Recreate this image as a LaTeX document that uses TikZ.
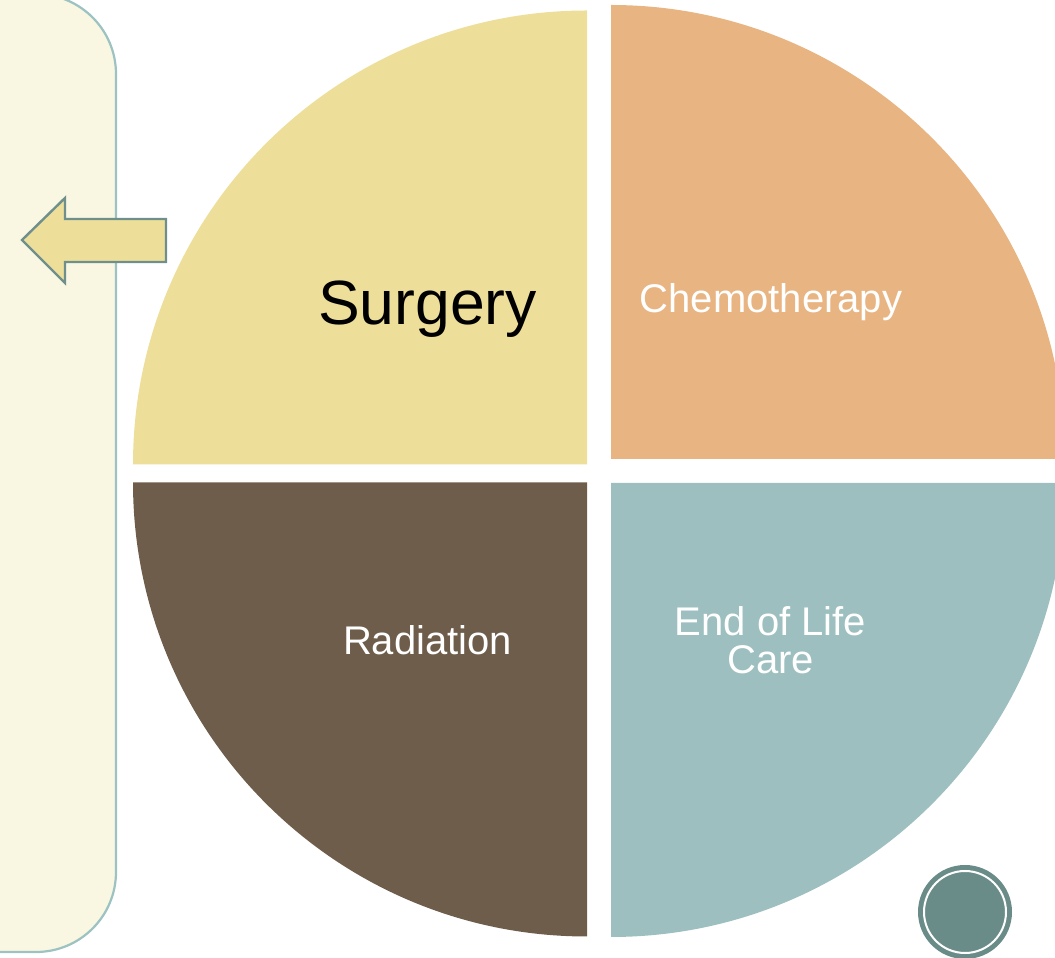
\documentclass[tikz,border=0pt]{standalone}
\usepackage{fontspec}
\setmainfont{Liberation Sans}
\usepackage{tikz}
\usetikzlibrary{arrows.meta,positioning}
\definecolor{surgery}{HTML}{EDDE9A}
\definecolor{chemo}{HTML}{E8B482}
\definecolor{radiation}{HTML}{6E5D4A}
\definecolor{endcare}{HTML}{9EBFBF}
\definecolor{panelfill}{HTML}{F9F6E2}
\definecolor{panelline}{HTML}{9CC2C1}
\definecolor{arrowline}{HTML}{6F8F8C}
\definecolor{badge}{HTML}{6A8C89}
\tikzset{
  biglabel/.style={font=\fontsize{62.5}{70}\selectfont, text=black, anchor=base},
  whitelabel/.style={font=\fontsize{40}{38.5}\selectfont, text=white, align=center},
  panel/.style={draw=panelline, line width=2.2pt, fill=panelfill, rounded corners=80pt}
}
\begin{document}
\begin{tikzpicture}[x=1pt,y=1pt]
        \useasboundingbox (0,0) rectangle (1055,958);
        \clip (0,0) rectangle (1055,958);
        % side panel and arrow
        \draw[panel] (-120,6) rectangle (116,964);
        \draw[arrowline, line width=2.4pt, fill=surgery, line join=miter]
          (22,718) -- (65,760) -- (65,739) -- (166,739) -- (166,696) -- (65,696) -- (65,675) -- cycle;
        % four quarters
        \fill[surgery] (587,493.5) -- ++(-454,0) arc[start angle=180, end angle=90, radius=454] -- cycle;
        \fill[chemo] (611,499) -- ++(0,454) arc[start angle=90, end angle=0, radius=454] -- cycle;
        \fill[radiation] (587,475.5) -- ++(-454,0) arc[start angle=180, end angle=270, radius=454] -- cycle;
        \fill[endcare] (611,475) -- ++(454,0) arc[start angle=0, end angle=-90, radius=454] -- cycle;
        \node[biglabel] (surg) at (427.5,633) {Surgery};
        \node[whitelabel, anchor=base] (chem) at (771,645) {Chemotherapy};
        \node[whitelabel, anchor=base] (rad) at (427.5,303) {Radiation};
        \node[whitelabel] (eol) at (770.5,318) {End of Life\\Care};
        % badge
        \fill[badge] (965,46) circle (47);
        \draw[white, line width=2pt] (965,46) circle (41);
      \end{tikzpicture}
\end{document}
